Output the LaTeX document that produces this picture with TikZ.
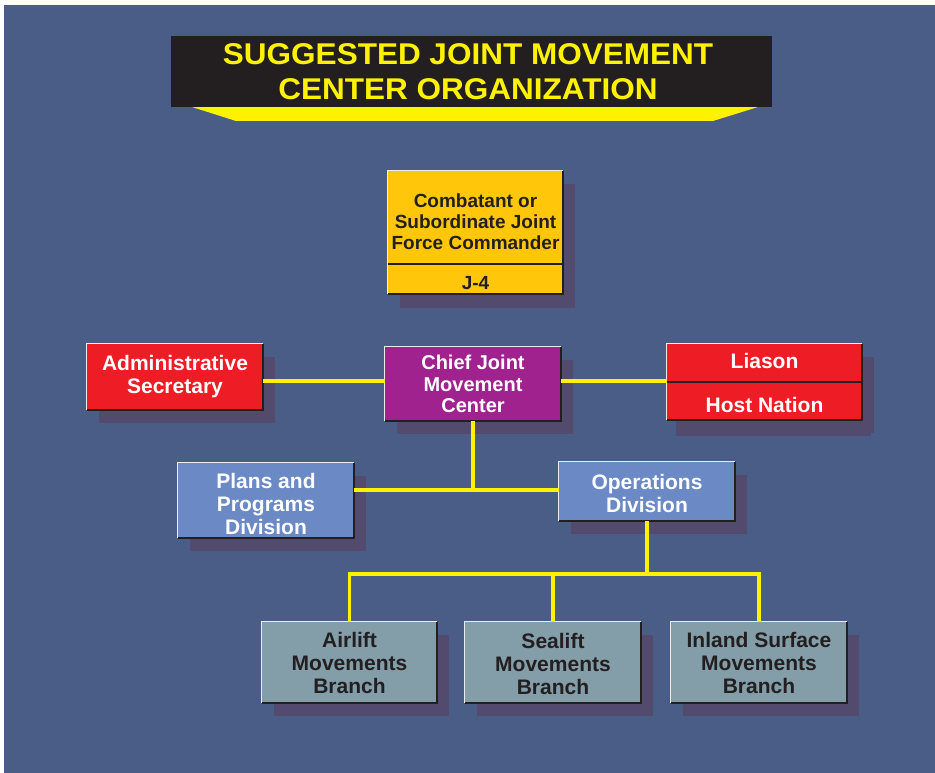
\documentclass[tikz,border=0pt]{standalone}
\usepackage{fontspec}
\setmainfont{Liberation Sans}
\usepackage{graphicx}
\usetikzlibrary{shadows,backgrounds}
\definecolor{bgc}{RGB}{74,93,135}
\definecolor{shadowc}{RGB}{82,75,110}
\definecolor{ybox}{RGB}{255,198,10}
\definecolor{purplec}{RGB}{160,34,142}
\definecolor{redc}{RGB}{238,28,37}
\definecolor{lbluec}{RGB}{107,137,197}
\definecolor{grayc}{RGB}{131,157,169}
\definecolor{linec}{RGB}{255,242,0}
\definecolor{darkc}{RGB}{35,31,32}
\newcommand\bevelbox[1]{%
  \draw[white!85!gray, line width=1pt] (#1.south west) -- (#1.north west) -- (#1.north east);
  \draw[darkc, line width=1.5pt] (#1.north east) -- (#1.south east) -- (#1.south west);}
\begin{document}
\begin{tikzpicture}[x=1pt,y=-1pt,
  box/.style={rectangle, inner sep=0pt, align=center,
    font=\bfseries\fontsize{21}{23}\selectfont,
    drop shadow={shadow xshift=12pt, shadow yshift=-13pt, fill=shadowc, opacity=1}},
  lbl/.style={inner sep=0pt, align=center, font=\bfseries\fontsize{21}{23}\selectfont},
  conn/.style={draw=linec, line width=3.2pt}]
\useasboundingbox (0,0) rectangle (935,773);
\fill[white] (0,0) rectangle (935,773);
\fill[bgc] (4,5) rectangle (935,773);
% title
\fill[linec] (192,107) -- (758,107) -- (713,121) -- (236,121) -- cycle;
\node[fill=darkc, minimum width=601pt, minimum height=71pt, inner sep=0pt] (title) at (471.5,71.5) {};
\node[lbl, text=linec, font=\bfseries\fontsize{30}{34.5}\selectfont] (titletext) at (468,71.5)
  {\scalebox{1.05}[1]{SUGGESTED JOINT MOVEMENT}\\\scalebox{1.05}[1]{CENTER ORGANIZATION}};
% top box
\node[box, fill=ybox, minimum width=175pt, minimum height=123pt,
  drop shadow={shadow xshift=12pt, shadow yshift=-14pt, fill=shadowc, opacity=1}] (cmd) at (475.5,232.5) {};
\bevelbox{cmd}
\coordinate (d1) at (0,264);
\draw[darkc, line width=2pt] (cmd.west |- d1) -- (cmd.east |- d1);
\node[lbl, text=darkc, font=\bfseries\fontsize{19}{21}\selectfont] (cmdtext) at (475.5,222)
  {Combatant or\\Subordinate Joint\\Force Commander};
\node[lbl, text=darkc, font=\bfseries\fontsize{19}{21}\selectfont] (j4) at (475.5,283) {J-4};
% chief
\node[box, fill=purplec, text=white, font=\bfseries\fontsize{20}{21.5}\selectfont,
  minimum width=176pt, minimum height=74pt] (chief) at (473,384) {Chief Joint\\Movement\\Center};
\bevelbox{chief}
% admin
\node[box, fill=redc, text=white, minimum width=176pt, minimum height=66pt] (admin) at (175,377)
  {Administrative\\Secretary};
\bevelbox{admin}
% liaison
\node[box, fill=redc, minimum width=195pt, minimum height=76pt,
  drop shadow={shadow xshift=9pt, shadow yshift=-16pt, fill=shadowc, opacity=1}] (lia) at (764.5,382) {};
\bevelbox{lia}
\draw[darkc, line width=1.5pt] (lia.west) -- (lia.east);
\node[lbl, text=white] (liatext) at (764.5,361) {Liason};
\node[lbl, text=white] (hosttext) at (764.5,405) {Host Nation};
% divisions
\node[box, fill=lbluec, minimum width=176pt, minimum height=75pt] (plans) at (266,500.5) {};
\bevelbox{plans}
\node[lbl, text=white] (planstext) at (266,504) {Plans and\\Programs\\Division};
\node[box, fill=lbluec, minimum width=176pt, minimum height=59pt] (ops) at (647,491.5) {};
\bevelbox{ops}
\node[lbl, text=white] (opstext) at (647,493.5) {Operations\\Division};
% branches
\node[box, fill=grayc, text=darkc, minimum width=175pt, minimum height=81pt] (air) at (349.5,662.5)
  {Airlift\\Movements\\Branch};
\bevelbox{air}
\node[box, fill=grayc, minimum width=176pt, minimum height=81pt] (sea) at (553,662.5) {};
\bevelbox{sea}
\node[lbl, text=darkc] (seatext) at (553,664) {Sealift\\Movements\\Branch};
\node[box, fill=grayc, text=darkc, minimum width=176pt, minimum height=81pt] (inl) at (759,662.5)
  {Inland Surface\\Movements\\Branch};
\bevelbox{inl}
% connectors
\begin{scope}[on background layer]
\draw[conn] (chief.north |- cmd.south) -- (chief.north);
\end{scope}
\coordinate (hl) at (0,381);
\coordinate (mid) at (0,490);
\coordinate (bus) at (0,574);
\draw[conn] (admin.east |- hl) -- (chief.west |- hl);
\draw[conn] (chief.east |- hl) -- (lia.west |- hl);
\draw[conn] (chief.south) -- (chief.south |- mid);
\draw[conn] (plans.east |- mid) -- (ops.west |- mid);
\draw[conn] (ops.south) -- (ops.south |- bus);
\draw[conn] (air.north) -- (air.north |- bus) -- (inl.north |- bus) -- (inl.north);
\draw[conn] (sea.north) -- (sea.north |- bus);
\end{tikzpicture}
\end{document}
